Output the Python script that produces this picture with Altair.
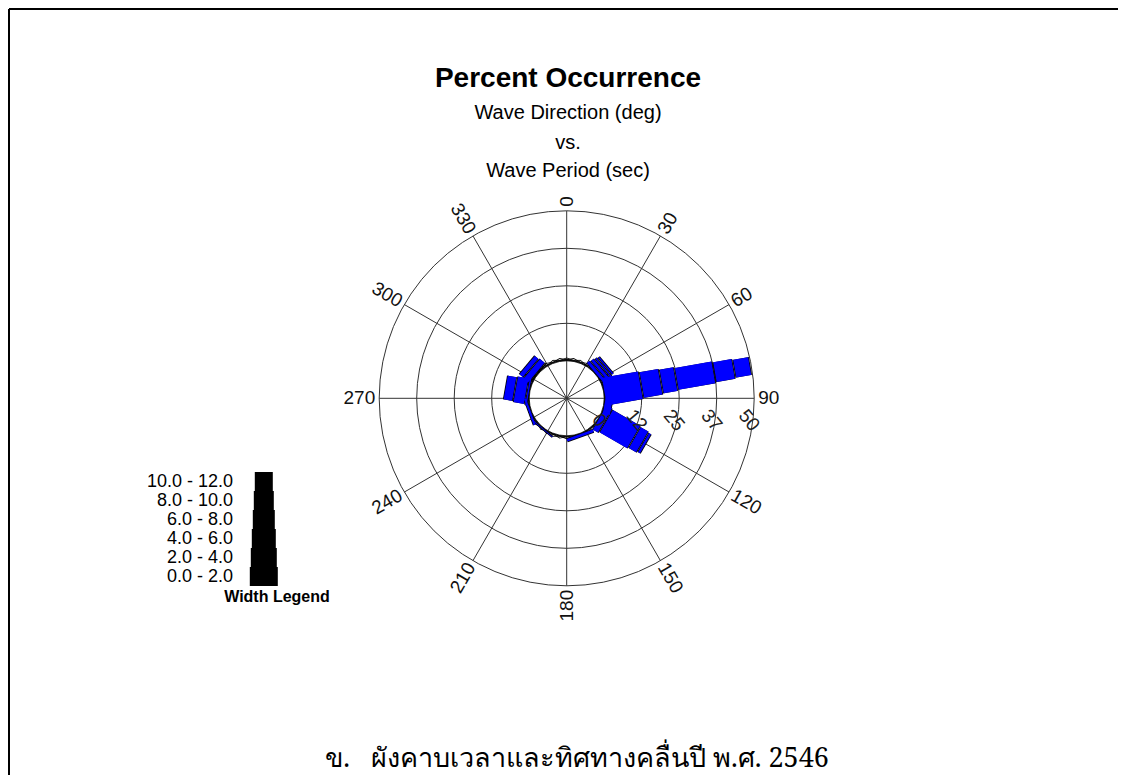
import altair as alt
import pandas as pd

# ---------------- data ----------------
directions = list(range(0, 360, 10))
period_bins = ["0.0 - 2.0", "2.0 - 4.0", "4.0 - 6.0", "6.0 - 8.0", "8.0 - 10.0", "10.0 - 12.0"]

# percent occurrence per direction (0,10,...,350) for each period class
p_0_2 = [0.3, 0.3, 0.3, 0.3, 0.3, 1.5, 0.3, 0.3, 12.7, 0.3, 0.0, 0.3,
         2.5, 0.3, 0.3, 0.3, 1.4, 0.3, 0.3, 0.3, 0.3, 0.3, 0.8, 0.3,
         0.3, 1.2, 0.3, 0.3, 1.0, 0.3, 0.3, 0.5, 0.3, 0.3, 0.3, 0.3]
p_2_4 = [0, 0, 0, 0, 0, 1.5, 0, 0, 6.7, 0, 0, 0,
         11.0, 0, 0, 0, 0, 0, 0, 0, 0, 0, 0, 0,
         0, 0, 0, 0, 4.0, 0, 0, 2.5, 0, 0, 0, 0]
p_4_6 = [0, 0, 0, 0, 0, 1.0, 0, 0, 5.1, 0, 0, 0,
         3.3, 0, 0, 0, 0, 0, 0, 0, 0, 0, 0, 0,
         0, 0, 0, 0, 3.4, 0, 0, 2.0, 0, 0, 0, 0]
p_6_8 = [0, 0, 0, 0, 0, 1.0, 0, 0, 12.9, 0, 0, 0,
         1.3, 0, 0, 0, 0, 0, 0, 0, 0, 0, 0, 0,
         0, 0, 0, 0, 0, 0, 0, 0, 0, 0, 0, 0]
p_8_10 = [0, 0, 0, 0, 0, 0, 0, 0, 6.7, 0, 0, 0,
          0, 0, 0, 0, 0, 0, 0, 0, 0, 0, 0, 0,
          0, 0, 0, 0, 0, 0, 0, 0, 0, 0, 0, 0]
p_10_12 = [0, 0, 0, 0, 0, 0, 0, 0, 5.6, 0, 2.9, 0,
           0, 0, 0, 0, 0, 0, 0, 0, 0, 0, 0, 0,
           0, 0, 0, 0, 0, 0, 0, 0, 0, 0, 0, 0]

ring_values = [0, 12.5, 25, 37.5, 50]
ring_labels = ["0", "12", "25", "37", "50"]
spoke_angles = list(range(0, 360, 30))

title_text = "Percent Occurrence"
subtitle_lines = ["Wave Direction (deg)", "vs.", "Wave Period (sec)"]
legend_title = "Width Legend"
caption = "ข.\u00a0\u00a0 ผังคาบเวลาและทิศทางคลื่นปี พ.ศ. 2546"

# ---------------- layout ----------------
W, H = 1110, 767
CX, CY = 566.7, 398.3      # page coordinates of the rose centre
R0, K = 37.5, 3.0          # inner radius (px) and px per percent
FONT = "Liberation Sans, Arial, Helvetica, sans-serif"

xs = alt.Scale(domain=[8, 8 + W], nice=False, zero=False)
ys = alt.Scale(domain=[8, 8 + H], nice=False, zero=False, reverse=True)


def X(f):
    return alt.X(f, type="quantitative", scale=xs, axis=None)


def Y(f):
    return alt.Y(f, type="quantitative", scale=ys, axis=None)


# segment table built from the series
series = [p_0_2, p_2_4, p_4_6, p_6_8, p_8_10, p_10_12]
rows = []
for i, d in enumerate(directions):
    start = 0.0
    for b, name in enumerate(period_bins):
        v = series[b][i]
        if v > 0:
            rows.append({"dir": d, "bi": b, "start": start, "end": start + v})
            start += v
seg = pd.DataFrame(rows)


def seg_calc(chart, trim):
    return chart.transform_calculate(
        r1=f"{R0} + {K}*datum.start + {trim}",
        r2=f"{R0} + {K}*datum.end - {trim}",
        rad="datum.dir*PI/180",
    ).transform_filter("datum.r2 > datum.r1").transform_calculate(
        x1=f"{CX} + datum.r1*sin(datum.rad)",
        y1=f"{CY} - datum.r1*cos(datum.rad)",
        x2=f"{CX} + datum.r2*sin(datum.rad)",
        y2=f"{CY} - datum.r2*cos(datum.rad)",
    )


PLOT_W = [26, 16]   # drawn width (px) of first and last period class in the rose
bars_black = seg_calc(alt.Chart(seg), 0).mark_rule(color="black").encode(
    x=X("x1"), y=Y("y1"), x2=alt.X2("x2"), y2=alt.Y2("y2"),
    size=alt.Size("bi:Q", scale=alt.Scale(domain=[0, 5], range=[PLOT_W[0] + 2, PLOT_W[1] + 2]), legend=None),
)
bars_blue = seg_calc(alt.Chart(seg), 0.8).mark_rule(color="#0000ff").encode(
    x=X("x1"), y=Y("y1"), x2=alt.X2("x2"), y2=alt.Y2("y2"),
    size=alt.Size("bi:Q", scale=alt.Scale(domain=[0, 5], range=PLOT_W), legend=None),
)

# rings
rings_df = pd.DataFrame({"v": ring_values, "lab": ring_labels})
rings = alt.Chart(rings_df).transform_calculate(
    r=f"{R0} + {K}*datum.v",
    s="4*datum.r*datum.r",
    cx=f"{CX}", cy=f"{CY}",
).mark_point(shape="circle", filled=False, color="#333333", strokeWidth=1, opacity=1).encode(
    x=X("cx"), y=Y("cy"), size=alt.Size("s:Q", scale=None, legend=None)
)

ring_text = alt.Chart(rings_df).transform_calculate(
    tx=f"{CX} + {R0} + {K}*datum.v - 5",
    ty=f"{CY} + 22",
).mark_text(font=FONT, fontSize=19, angle=50, align="center", baseline="middle", color="#222").encode(
    x=X("tx"), y=Y("ty"), text="lab:N"
)

# spokes
spokes_df = pd.DataFrame({"a": spoke_angles})
R_OUT = R0 + K * 50
spokes = alt.Chart(spokes_df).transform_calculate(
    x1=f"{CX}", y1=f"{CY}",
    x2=f"{CX} + {R_OUT}*sin(datum.a*PI/180)",
    y2=f"{CY} - {R_OUT}*cos(datum.a*PI/180)",
).mark_rule(color="#333333", strokeWidth=1).encode(
    x=X("x1"), y=Y("y1"), x2=alt.X2("x2"), y2=alt.Y2("y2")
)


def angle_labels(right_side):
    flt = "datum.a < 180" if right_side else "datum.a >= 180"
    return alt.Chart(spokes_df).transform_filter(flt).transform_calculate(
        r=f"{R_OUT} + 4",
        tx=f"{CX} + datum.r*sin(datum.a*PI/180)",
        ty=f"{CY} - datum.r*cos(datum.a*PI/180)",
        ang="(datum.a + 270) % 360" if right_side else "(datum.a + 90) % 360",
        lab="'' + datum.a",
    ).mark_text(font=FONT, fontSize=19, align="left" if right_side else "right",
                baseline="middle", color="#111").encode(
        x=X("tx"), y=Y("ty"), text="lab:N", angle=alt.Angle("ang:Q", scale=None)
    )


one = pd.DataFrame({"k": [0]})


def txt(s, px, py, **kw):
    base = dict(font=FONT, color="black", align="center", baseline="alphabetic")
    base.update(kw)
    return alt.Chart(one).mark_text(text=s, **base).encode(x=alt.value(px - 8), y=alt.value(py - 8))


titles = [
    txt(title_text, 568, 87, fontSize=28, fontWeight="bold"),
    txt(subtitle_lines[0], 568, 119, fontSize=20),
    txt(subtitle_lines[1], 568, 149, fontSize=20),
    txt(subtitle_lines[2], 568, 177, fontSize=20),
]

# width legend
leg_df = pd.DataFrame({"bin": period_bins, "bi": list(range(6))})
LEG_X, LEG_BOTTOM, ROW = 263.8, 586, 19
legend_bars = alt.Chart(leg_df).transform_calculate(
    lx=f"{LEG_X}",
    yb=f"{LEG_BOTTOM} - {ROW}*datum.bi",
    yt=f"{LEG_BOTTOM} - {ROW}*(datum.bi + 1)",
).mark_rule(color="black").encode(
    x=X("lx"), y=Y("yb"), y2=alt.Y2("yt"),
    size=alt.Size("bi:Q", scale=alt.Scale(domain=[0, 5], range=[29, 9]), legend=None),
)
legend_text = alt.Chart(leg_df).transform_calculate(
    lx="233",
    ly=f"{LEG_BOTTOM} - {ROW}*(datum.bi + 0.5)",
).mark_text(font=FONT, fontSize=18, align="right", baseline="middle", color="black").encode(
    x=X("lx"), y=Y("ly"), text="bin:N"
)
legend_title_t = txt(legend_title, 277, 602, fontSize=16, fontWeight="bold")

caption_t = txt(caption, 577, 759, fontSize=27, baseline="middle",
                font="Noto Serif, DejaVu Serif, Liberation Serif, serif")

frame = [
    alt.Chart(one).mark_rule(color="black", strokeWidth=2).encode(
        x=alt.value(1), y=alt.value(1), x2=alt.value(W), y2=alt.value(1)),
    alt.Chart(one).mark_rule(color="black", strokeWidth=2).encode(
        x=alt.value(1), y=alt.value(1), x2=alt.value(1), y2=alt.value(H)),
]

chart = alt.layer(
    *frame,
    rings, spokes, bars_black, bars_blue,
    ring_text, angle_labels(True), angle_labels(False),
    *titles, legend_bars, legend_text, legend_title_t, caption_t,
).properties(
    width=W, height=H, padding=0, autosize=alt.AutoSizeParams(type="none"),
    background="white",
).configure_view(stroke=None)

chart.save("out.html", embed_options={"renderer": "svg", "actions": False})
